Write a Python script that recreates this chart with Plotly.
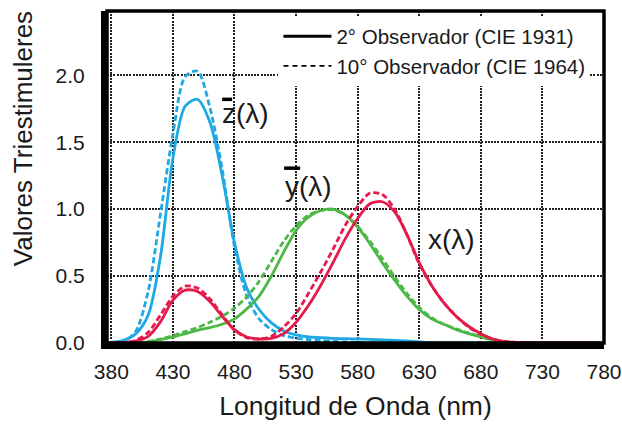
import plotly.graph_objects as go

wavelength = list(range(380, 781, 10))

x_bar_2deg = [0.001, 0.004, 0.015, 0.05, 0.16, 0.32, 0.395, 0.385, 0.31, 0.20,
              0.10, 0.045, 0.03, 0.035, 0.07, 0.155, 0.28, 0.43, 0.60, 0.78,
              0.93, 1.04, 1.055, 0.98, 0.81, 0.60, 0.43, 0.30, 0.20, 0.125,
              0.07, 0.03, 0.01, 0.004, 0.001, 0, 0, 0, 0, 0, 0]
x_bar_10deg = [0.0, 0.003, 0.02, 0.08, 0.21, 0.35, 0.425, 0.41, 0.33, 0.21,
               0.095, 0.04, 0.03, 0.05, 0.12, 0.22, 0.37, 0.53, 0.70, 0.88,
               1.02, 1.12, 1.11, 1.00, 0.81, 0.59, 0.43, 0.30, 0.20, 0.12,
               0.065, 0.03, 0.01, 0.004, 0.001, 0, 0, 0, 0, 0, 0]
y_bar_2deg = [0, 0, 0.002, 0.008, 0.025, 0.045, 0.07, 0.095, 0.115, 0.14,
              0.18, 0.255, 0.35, 0.50, 0.68, 0.84, 0.94, 0.99, 1.0, 0.955,
              0.865, 0.74, 0.60, 0.47, 0.35, 0.25, 0.18, 0.14, 0.10, 0.07,
              0.045, 0.022, 0.008, 0.003, 0.001, 0, 0, 0, 0, 0, 0]
y_bar_10deg = [0, 0, 0.003, 0.012, 0.03, 0.055, 0.085, 0.115, 0.155, 0.20,
               0.26, 0.345, 0.46, 0.61, 0.76, 0.875, 0.955, 0.99, 0.995, 0.955,
               0.87, 0.76, 0.63, 0.495, 0.37, 0.265, 0.19, 0.14, 0.105, 0.075,
               0.048, 0.024, 0.009, 0.003, 0.001, 0, 0, 0, 0, 0, 0]
z_bar_2deg = [0.006, 0.02, 0.07, 0.21, 0.65, 1.38, 1.77, 1.82, 1.65, 1.25,
              0.75, 0.41, 0.25, 0.15, 0.09, 0.06, 0.045, 0.04, 0.035, 0.032,
              0.03, 0.027, 0.024, 0.02, 0.015, 0.008, 0.003, 0, 0, 0,
              0, 0, 0, 0, 0, 0, 0, 0, 0, 0, 0]
z_bar_10deg = [0.001, 0.011, 0.09, 0.39, 0.97, 1.56, 1.99, 2.03, 1.76, 1.30,
               0.72, 0.35, 0.18, 0.10, 0.055, 0.035, 0.025, 0.018, 0.012, 0.008,
               0.005, 0.003, 0.001, 0, 0, 0, 0, 0, 0, 0,
               0, 0, 0, 0, 0, 0, 0, 0, 0, 0, 0]

x_ticks = list(range(380, 781, 50))
y_ticks = [0.0, 0.5, 1.0, 1.5, 2.0]
y_tick_text = ["0.0", "0.5", "1.0", "1.5", "2.0"]

legend_labels = ["2° Observador (CIE 1931)", "10° Observador (CIE 1964)"]
curve_labels = ["z(λ)", "y(λ)", "x(λ)"]
x_title = "Longitud de Onda (nm)"
y_title = "Valores Triestimuleres"

BLUE = "#1FA9E4"
GREEN = "#4DB848"
RED = "#E6194B"
DASH = "6px,3px"
LW = 2.8

fig = go.Figure()

series = [
    (z_bar_2deg, BLUE, "solid"), (z_bar_10deg, BLUE, DASH),
    (y_bar_2deg, GREEN, "solid"), (y_bar_10deg, GREEN, DASH),
    (x_bar_2deg, RED, "solid"), (x_bar_10deg, RED, DASH),
]
for vals, col, dash in series:
    fig.add_trace(go.Scatter(
        x=wavelength, y=vals, mode="lines", showlegend=False,
        line=dict(color=col, width=LW, dash=dash, shape="spline", smoothing=0.8),
        hoverinfo="skip"))

# legend entries (black samples)
fig.add_trace(go.Scatter(x=[None], y=[None], mode="lines", name=legend_labels[0],
                         line=dict(color="black", width=3)))
fig.add_trace(go.Scatter(x=[None], y=[None], mode="lines", name=legend_labels[1],
                         line=dict(color="black", width=1.8, dash="5px,4px")))

font_family = "Liberation Sans, Arial, sans-serif"
TXT = "#1a1a1a"
GRID = dict(showgrid=True, gridcolor="#222222", gridwidth=1.6, griddash="2px,1.2px")

fig.update_layout(
    width=622, height=425,
    margin=dict(l=107, r=18, t=11, b=82, autoexpand=False),
    paper_bgcolor="white", plot_bgcolor="white",
    font=dict(family=font_family, color=TXT),
    showlegend=True,
    legend=dict(
        x=0.345, y=0.984, xanchor="left", yanchor="top",
        bgcolor="white", borderwidth=0,
        font=dict(size=20.5, color=TXT, family=font_family),
        itemwidth=48, tracegroupgap=0,
    ),
    xaxis=dict(
        range=[376.5, 780], tickmode="array", tickvals=x_ticks,
        zeroline=False, showline=True, linecolor="black", linewidth=6,
        ticks="", ticklabelstandoff=5, automargin=False,
        tickfont=dict(size=21, color=TXT),
        title=dict(text=x_title, font=dict(size=26.5, color=TXT), standoff=16),
        **GRID,
    ),
    yaxis=dict(
        range=[0, 2.48], tickmode="array", tickvals=y_ticks, ticktext=y_tick_text,
        zeroline=False, showline=True, linecolor="black", linewidth=6,
        ticks="", ticklabelstandoff=12, automargin=False,
        tickfont=dict(size=21, color=TXT),
        **GRID,
    ),
)

# y axis title (placed above centre, as in the reference)
fig.add_annotation(xref="paper", yref="paper", x=-0.169, y=0.614, text=y_title,
                   textangle=-90, showarrow=False, xanchor="center", yanchor="middle",
                   font=dict(size=26, color=TXT, family=font_family))

# top/right frame
fig.add_shape(type="rect", xref="paper", yref="paper", x0=0, y0=0, x1=1, y1=1,
              line=dict(color="black", width=3.5), layer="above")

# curve labels
label_pos = [(488.7, 1.716), (540.3, 1.17), (656.5, 0.77)]
for txt, (lx, ly) in zip(curve_labels, label_pos):
    fig.add_annotation(x=lx, y=ly, text=txt, showarrow=False,
                       font=dict(size=28, color=TXT, family=font_family),
                       xanchor="center", yanchor="middle")
# overbars for z and y
bars = [(470.0, 478.1, 1.82), (520.3, 533.3, 1.306)]
for x0, x1, yb in bars:
    fig.add_shape(type="line", xref="x", yref="y", x0=x0, x1=x1, y0=yb, y1=yb,
                  line=dict(color="black", width=3.5), layer="above")

fig.write_html("out.html", config={"displayModeBar": False},
               post_script="document.body.style.margin='0';document.body.style.padding='0';")
